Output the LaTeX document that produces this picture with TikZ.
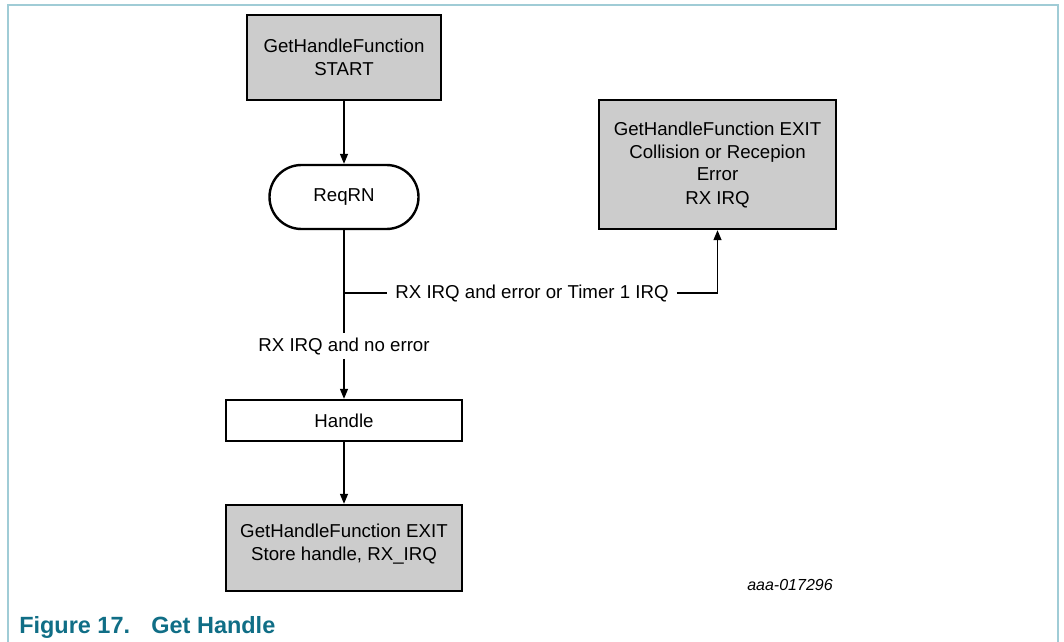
\documentclass[tikz,border=0pt]{standalone}
\usepackage{fontspec}
\setmainfont{Liberation Sans}
\usetikzlibrary{arrows.meta}
\definecolor{framecol}{RGB}{160,204,214}
\definecolor{capcol}{RGB}{16,110,134}
\definecolor{boxgray}{RGB}{204,204,204}

\begin{document}
\begin{tikzpicture}[x=0.75pt,y=-0.75pt,
    font=\fontsize{14}{17.25}\selectfont,
    termbox/.style={draw, line width=1.8pt, fill=boxgray, align=center, inner sep=0pt},
    procbox/.style={draw, line width=1.8pt, fill=white, align=center, inner sep=0pt},
    flow/.style={line width=1pt, -{Triangle[length=7.5pt,width=6pt]}},
    lbl/.style={inner xsep=6pt, inner ysep=3pt}]
    \useasboundingbox (0,0) rectangle (1064,642);
    % frame
    \draw[framecol, line width=1.2pt] (8,642) -- (8,5) -- (1058,5) -- (1058,642);
    % boxes
    \node[termbox, minimum width=145.5pt, minimum height=63.75pt] (start) at (344,57.5)
        {GetHandleFunction\\START};
    \node[procbox, minimum width=111.75pt, minimum height=48pt, rounded corners=24pt] (reqrn) at (344,197)
        {ReqRN};
    \node[termbox, minimum width=177.75pt, minimum height=96.75pt] (exiterr) at (717.5,164.5)
        {GetHandleFunction EXIT\\Collision or Recepion\\Error\\RX IRQ};
    \node[procbox, minimum width=177pt, minimum height=30.75pt] (handle) at (344,420.5)
        {Handle};
    \node[termbox, minimum width=177pt, minimum height=64.5pt, text depth=9pt] (exitok) at (344,548)
        {GetHandleFunction EXIT\\Store handle, RX\_IRQ};
    % labels
    \coordinate (split) at (344,293);
    \node[lbl] (errlbl) at (532,293) {RX IRQ and error or Timer 1 IRQ};
    \node[lbl] (noerr) at (344,346) {RX IRQ and no error};
    % connectors
    \draw[flow] (start) -- (reqrn);
    \draw[line width=1pt] (reqrn) -- (noerr);
    \draw[flow] (noerr) -- (handle);
    \draw[line width=1pt] (split) -- (errlbl);
    \draw[flow] (errlbl) -| (exiterr);
    \draw[flow] (handle) -- (exitok);
    % ids and caption
    \node[font=\fontsize{12}{14}\selectfont\itshape] (docid) at (790,585) {aaa-017296};
    \node[anchor=west, text=capcol, font=\fontsize{17.6}{21}\bfseries\selectfont, inner sep=0pt] (caption)
        at (19,627) {Figure 17.\hspace{16pt}Get Handle};
\end{tikzpicture}
\end{document}
